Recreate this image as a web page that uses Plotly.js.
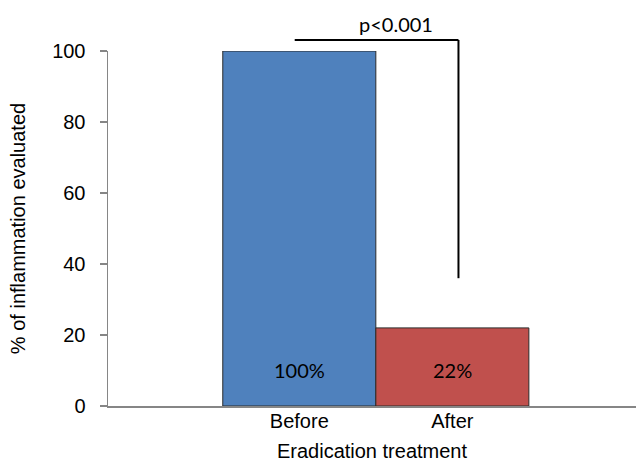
<!DOCTYPE html>
<html><head><meta charset="utf-8">
<script src="https://cdn.plot.ly/plotly-3.0.1.min.js"></script>
<style>body{margin:0;background:#fff}#chart{width:638px;height:462px}</style>
</head><body><div id="chart"></div>
<script>
var categories = ["Before", "After"];
var values = [100, 22];
var barLabels = ["100%", "22%"];
var barColors = ["#4F81BD", "#C0504D"];
var yTicks = [0, 20, 40, 60, 80, 100];
var pText = "p<0.001";

var trace = {
  type: "bar",
  x: categories,
  y: values,
  width: 1,
  marker: {color: barColors, line: {color: "#2b2b2b", width: 1}},
  hoverinfo: "none"
};

var annotations = categories.map(function(c, i){
  return {x: c, y: 10.1, xref: "x", yref: "y", text: barLabels[i], showarrow: false,
    font: {family: "Lato, 'Open Sans', sans-serif", size: 20, color: "#000"}};
});
annotations.push({x: 0.63, y: 1.076, xref: "x", yref: "paper", xanchor: "center", yanchor: "middle",
  text: pText, showarrow: false,
  font: {family: "Lato, 'Open Sans', sans-serif", size: 20, color: "#000"}});

var layout = {
  width: 638, height: 462,
  margin: {l: 108, r: 2, t: 51, b: 56},
  paper_bgcolor: "#fff", plot_bgcolor: "#fff",
  showlegend: false,
  font: {family: "Arial, 'Liberation Sans', sans-serif", color: "#000"},
  bargap: 0,
  xaxis: {
    type: "category", range: [-1.25, 2.2],
    showline: true, linecolor: "#868686", linewidth: 1.5,
    ticks: "", showgrid: false, zeroline: false,
    tickfont: {size: 20}, ticklabelstandoff: -4,
    title: {text: "Eradication treatment", font: {size: 20}, standoff: 14}
  },
  yaxis: {
    range: [0, 100], tickvals: yTicks, ticktext: yTicks.map(String),
    showline: true, linecolor: "#868686", linewidth: 1.5,
    ticks: "outside", ticklen: 7, tickcolor: "#868686", tickwidth: 1.5,
    showgrid: false, zeroline: false,
    tickfont: {size: 20}, ticklabelstandoff: 10,
    title: {text: "% of inflammation evaluated", font: {size: 20}, standoff: 21}
  },
  shapes: [
    {type: "line", xref: "x", yref: "paper", x0: -0.03, x1: 1.04, y0: 1.031, y1: 1.031,
     line: {color: "#000", width: 2}},
    {type: "line", xref: "x", yref: "paper", x0: 1.04, x1: 1.04, y0: 1.031, y1: 0.36,
     line: {color: "#000", width: 2}}
  ],
  annotations: annotations
};

Plotly.newPlot("chart", [trace], layout, {displayModeBar: false, staticPlot: true});
</script></body></html>
